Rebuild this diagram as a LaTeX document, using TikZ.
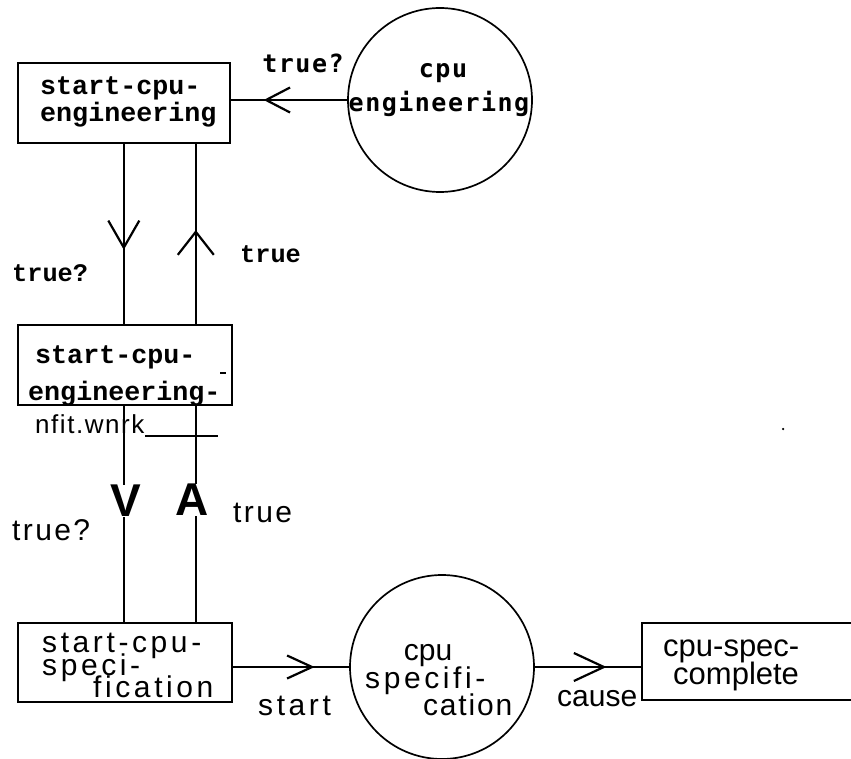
\documentclass[tikz,border=0pt]{standalone}
\usepackage{fontspec}
\usetikzlibrary{arrows.meta,decorations.markings}
\newfontfamily\twfont{Liberation Mono}
\newfontfamily\dotfont[LetterSpace=6]{DejaVu Sans Mono}
\newfontfamily\sansplain{Liberation Sans}
\newfontfamily\sanswide[LetterSpace=12]{Liberation Sans}
\newfontfamily\sansmid[LetterSpace=6]{Liberation Sans}
\newfontfamily\sanslbl[LetterSpace=8]{Liberation Sans}
\begin{document}
\begin{tikzpicture}[x=1pt,y=-1pt,
  boxst/.style={draw,line width=2.4pt,inner sep=0pt},
  circst/.style={draw,circle,line width=1.7pt,inner sep=0pt,minimum size=184pt},
  conn/.style={line width=2.2pt},
  barbat/.style n args={4}{postaction={decorate},decoration={markings,
     mark=at position #1 with {\arrow{Straight Barb[length=#2pt,width=#3pt,line width=#4pt]}}}},
  twtxt/.style={inner sep=0pt,anchor=base west,font=\twfont\bfseries\fontsize{26.7}{27}\selectfont},
  twlbl/.style={inner sep=0pt,anchor=base west,font=\twfont\bfseries\fontsize{25.3}{26}\selectfont},
  dottxt/.style={inner sep=0pt,anchor=base,font=\dotfont\bfseries\fontsize{25}{26}\selectfont},
  swide/.style={inner sep=0pt,anchor=base west,font=\sanswide\fontsize{30}{30}\selectfont},
  smid/.style={inner sep=0pt,anchor=base west,font=\sansmid\fontsize{30}{30}\selectfont},
  slbl/.style={inner sep=0pt,anchor=base west,font=\sanslbl\fontsize{30}{30}\selectfont},
  splain/.style={inner sep=0pt,anchor=base west,font=\sansplain\fontsize{30}{30}\selectfont},
]
\useasboundingbox[fill=white] (0,0) rectangle (851,759);

% boxes and circles
\node[boxst,minimum width=212pt,minimum height=80pt] (b1) at (124,103) {};
\node[boxst,minimum width=214pt,minimum height=80pt] (b2) at (125,365) {};
\node[boxst,minimum width=214pt,minimum height=79pt] (b3) at (125,662.5) {};
\node[boxst,minimum width=240pt,minimum height=77pt] (b4) at (762,661.5) {};
\node[circst] (c1) at (440,100) {};
\node[circst] (c2) at (442,667) {};

% connectors
\draw[conn,barbat={0.72}{24}{25}{2.2}] (c1.west) -- (c1.west -| b1.east);
\draw[conn,barbat={0.588}{27}{31}{2.2}] ([xshift=107pt]b1.south west) -- ([xshift=107pt]b2.north west);
\draw[conn,barbat={0.522}{23}{36}{2.2}] ([xshift=179pt]b2.north west) -- ([xshift=179pt]b1.south west);
\draw[conn] ([xshift=107pt]b2.south west) -- ([xshift=107pt]b3.north west);
\draw[conn] ([xshift=179pt]b2.south west) -- ([xshift=179pt]b3.north west);
\draw[conn,barbat={0.703}{25}{23}{2.2}] (b3.east |- c2.west) -- (c2.west);
\draw[conn,barbat={0.676}{30}{28}{2.2}] (c2.east) -- (c2.east -| b4.west);

% box texts
\node[twtxt] (t1a) at (40,95) {start-cpu-};
\node[twtxt] (t1b) at (40,122) {engineering};
\node[twtxt] (t2a) at (35,363) {start-cpu-};
\node[twtxt] (t2b) at (28,400) {engineering-};
\coordinate (d1) at (220,373);
\coordinate (d2) at (226,373);
\draw[line width=2pt] (d1) -- (d2);
\node[smid,font=\sansmid\fontsize{26}{26}\selectfont] (nf) at (35,433) {nfit.wnrk};
\coordinate (u1) at (145,436);
\coordinate (u2) at (218,436);
\draw[line width=1.6pt] (u1) -- (u2);

\node[swide] (t3a) at (42,652) {start-cpu-};
\node[swide] (t3b) at (42,675) {speci-};
\node[swide] (t3c) at (93,697) {fication};

\node[splain,font=\sansplain\fontsize{31}{31}\selectfont] (t4a) at (663,656) {cpu-spec-};
\node[splain,font=\sansplain\fontsize{31}{31}\selectfont] (t4b) at (673,684) {complete};

% circle texts
\node[dottxt] (tc1a) at (443,78) {cpu};
\node[dottxt] (tc1b) at (439,112) {engineering};
\node[splain,anchor=base] (tc2a) at (428,660) {cpu};
\node[swide] (tc2b) at (365,688) {specifi-};
\node[smid] (tc2c) at (423,715) {cation};

% labels
\node[dottxt] (l1) at (303,73) {true?};
\node[twlbl] (l2) at (12,282) {true?};
\node[twlbl] (l3) at (240,263) {true};
\node[slbl] (l4) at (12,540) {true?};
\node[slbl] (l5) at (233,522) {true};
\node[inner sep=0pt,fill=white,font=\sansplain\bfseries\fontsize{46}{46}\selectfont] (vv) at (126,501) {V};
\node[inner sep=0pt,fill=white,font=\sansplain\bfseries\fontsize{46}{46}\selectfont] (aa) at (192,500) {A};
\node[swide] (l6) at (258,715) {start};
\node[splain] (l7) at (557,706) {cause};

\node[circle,fill,inner sep=0pt,minimum size=2.5pt] (dot) at (783,429) {};
\end{tikzpicture}
\end{document}
